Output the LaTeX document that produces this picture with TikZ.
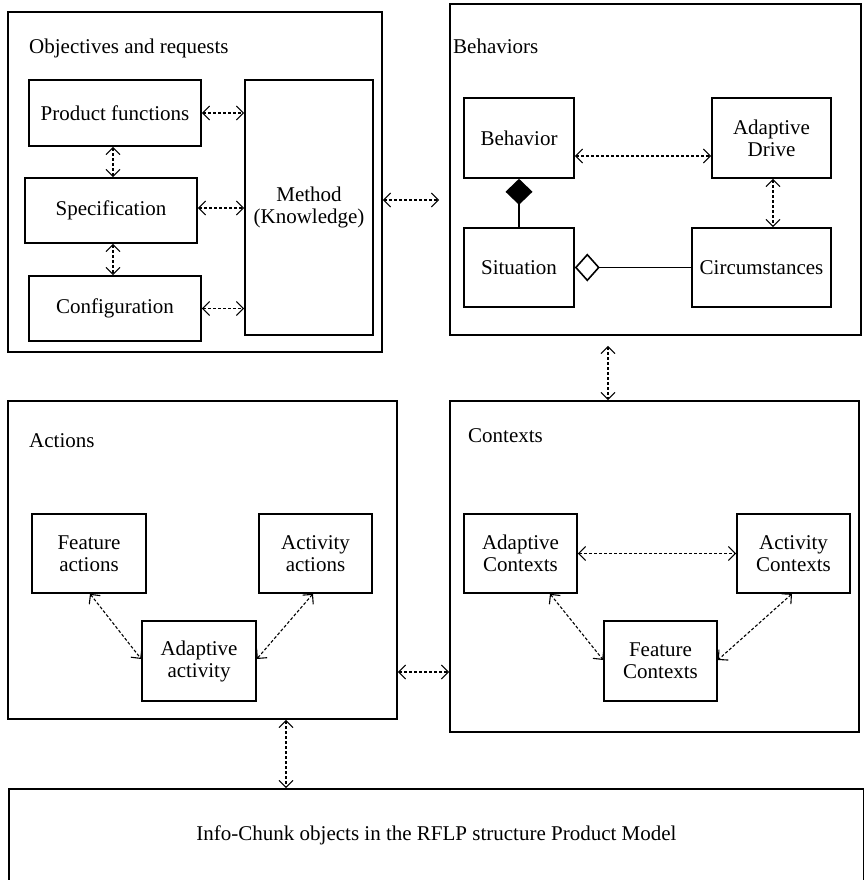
\documentclass[tikz,border=0pt]{standalone}
\usepackage{fontspec}
\setmainfont{Liberation Serif}
\usetikzlibrary{arrows.meta}
\begin{document}
\begin{tikzpicture}[x=1pt,y=-1pt,
  txt/.style={font=\fontsize{21}{22}\selectfont},
  box/.style={draw, line width=1.6pt, inner sep=0pt, align=center, txt},
  grp/.style={draw, line width=1.6pt, inner sep=0pt},
  ttl/.style={anchor=base west, inner sep=0pt, txt},
  link/.style={line width=1.1pt, dash pattern=on 3pt off 2pt,
    {Straight Barb[length=7pt,width=14pt]}-{Straight Barb[length=7pt,width=14pt]}},
  solidlink/.style={line width=1.6pt}
]
\fill[white] (0,0) rectangle (863,880);
\useasboundingbox (0,0) rectangle (863,880);

% group boxes
\node[grp, minimum width=374pt, minimum height=340pt] (obj) at (195,182) {};
\node[grp, minimum width=411pt, minimum height=331pt] (beh) at (655.5,169.5) {};
\node[grp, minimum width=389pt, minimum height=318pt] (act) at (202.5,560) {};
\node[grp, minimum width=409pt, minimum height=331pt] (ctx) at (654.5,566.5) {};
\node[grp, minimum width=855pt, minimum height=92pt, txt] (info) at (436.5,835)
  {Info-Chunk objects in the RFLP structure Product Model};

% titles
\node[ttl] (tobj) at (29,54) {Objectives and requests};
\node[ttl] (tbeh) at (453,54) {Behaviors};
\node[ttl] (tact) at (29,447) {Actions};
\node[ttl] (tctx) at (468,442) {Contexts};

% objectives and requests
\node[box, minimum width=172pt, minimum height=66pt] (pf) at (115,113) {Product functions};
\node[box, minimum width=172pt, minimum height=65pt] (spec) at (111,210.5) {Specification};
\node[box, minimum width=172pt, minimum height=65pt] (conf) at (115,308.5) {Configuration};
\node[box, minimum width=128pt, minimum height=255pt] (meth) at (309,207.5) {Method\\(Knowledge)};

% behaviors
\node[box, minimum width=110pt, minimum height=80pt] (bhv) at (519,138) {Behavior};
\node[box, minimum width=119pt, minimum height=80pt] (ad) at (771.5,138) {Adaptive\\Drive};
\node[box, minimum width=110pt, minimum height=79pt] (sit) at (519,267.5) {Situation};
\node[box, minimum width=139pt, minimum height=79pt] (circ) at (761.5,267.5) {Circumstances};

% actions
\node[box, minimum width=114pt, minimum height=79pt] (fa) at (89,553.5) {Feature\\actions};
\node[box, minimum width=113pt, minimum height=79pt] (acta) at (315.5,553.5) {Activity\\actions};
\node[box, minimum width=114pt, minimum height=80pt] (aa) at (199,661) {Adaptive\\activity};

% contexts
\node[box, minimum width=113pt, minimum height=79pt] (adc) at (520.5,553.5) {Adaptive\\Contexts};
\node[box, minimum width=113pt, minimum height=79pt] (actc) at (793.5,553.5) {Activity\\Contexts};
\node[box, minimum width=113pt, minimum height=80pt] (fc) at (660.5,661) {Feature\\Contexts};

% connectors inside objectives
\draw[link] (pf.east) -- (pf.east -| meth.west);
\draw[link] ([yshift=2.5pt]spec.east) -- ([yshift=2.5pt]spec.east -| meth.west);
\draw[link] (conf.east) -- (conf.east -| meth.west);
\draw[link] ([xshift=-2pt]pf.south) -- ([xshift=2pt]spec.north);
\draw[link] ([xshift=2pt]spec.south) -- ([xshift=-2pt]conf.north);

% connectors inside behaviors
\draw[link] ([yshift=-18pt]bhv.east) -- ([yshift=-18pt]ad.west);
\draw[link] ([xshift=1.5pt]ad.south) -- ([xshift=11.5pt]circ.north);
\draw[solidlink, -{Diamond[length=26pt,width=27pt]}] (sit.north) -- (bhv.south);
\draw[solidlink, -{Diamond[open,length=25pt,width=28pt]}] (circ.west) -- (sit.east);

% connectors inside actions
\draw[link] ([xshift=1pt]fa.south) -- ([yshift=2pt]aa.west);
\draw[link] ([xshift=-2.5pt]acta.south) -- ([yshift=2pt]aa.east);

% connectors inside contexts
\draw[link] (adc.east) -- (actc.west);
\draw[link] ([xshift=29.5pt]adc.south) -- ([yshift=1pt]fc.west);
\draw[link] ([xshift=-1.5pt]actc.south) -- ([yshift=1pt]fc.east);

% connectors between groups
\draw[link, shorten >=10pt] ([yshift=-18pt]obj.east) -- ([yshift=-30.5pt]beh.west);
\draw[link, shorten <=10pt] ([xshift=-47.5pt]beh.south) -- ([xshift=-46.5pt]ctx.north);
\draw[link] ([yshift=-112pt]act.east) -- ([yshift=-105.5pt]ctx.west);
\draw[link] ([xshift=83.5pt]act.south) -- ([xshift=-150.5pt]info.north);
\end{tikzpicture}
\end{document}
